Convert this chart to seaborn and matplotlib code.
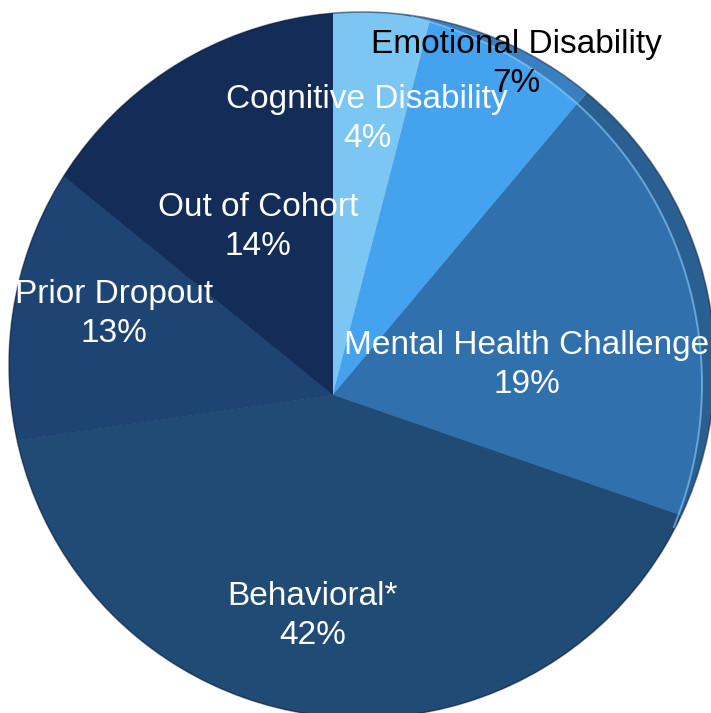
import numpy as np
import matplotlib
matplotlib.use("Agg")
import matplotlib.pyplot as plt
from matplotlib.patches import Circle
from matplotlib.path import Path
import seaborn as sns

# Share of students by category (clockwise from 12 o'clock)
categories = ["Cognitive Disability", "Emotional Disability", "Mental Health Challenge",
              "Behavioral*", "Prior Dropout", "Out of Cohort"]
shares = [4, 7, 19, 42, 13, 14]

# Slice colours (top face) and darker side colours for the rim
face_colors = ["#7cc6f3", "#45a2ee", "#3070ac", "#204b75", "#1d4472", "#142c58"]
side_colors = ["#4a8fc6", "#3a80c0", "#2a5f92", "#1b4066", "#193c65", "#11264d"]
text_colors = ["white", "black", "white", "white", "white", "white"]

sns.set_theme(style="white")
plt.rcParams["font.family"] = ["Liberation Sans", "DejaVu Sans"]

W, H = 711, 713
fig = plt.figure(figsize=(W / 100, H / 100), dpi=100)
ax = fig.add_axes([0, 0, 1, 1])


def px(x, y):
    """Pixel position (origin top-left) to data coords."""
    return (x, H - y)


# Geometry of the disc (pixel space)
apex = px(333, 395)
outer_c = np.array(px(362, 365), dtype=float)
outer_r = 353.0
inner_c = np.array(px(325, 384), dtype=float)
inner_r = 377.0

outer_path = Path.circle(outer_c, outer_r)

# Lens = intersection of the outer disc and the offset top-face disc
t = np.linspace(0, 2 * np.pi, 2000, endpoint=False)
po = outer_c + outer_r * np.c_[np.cos(t), np.sin(t)]
pi_ = inner_c + inner_r * np.c_[np.cos(t), np.sin(t)]
keep_o = po[np.hypot(*(po - inner_c).T) <= inner_r]
keep_i = pi_[np.hypot(*(pi_ - outer_c).T) <= outer_r]
lens_pts = np.vstack([keep_o, keep_i])
ang = np.arctan2(lens_pts[:, 1] - outer_c[1], lens_pts[:, 0] - outer_c[0])
lens_pts = lens_pts[np.argsort(ang)]
lens_path = Path(np.vstack([lens_pts, lens_pts[:1]]), closed=True)

# Side (rim) layer
side_wedges, _ = ax.pie(shares, colors=side_colors, startangle=90, counterclock=False,
                        center=apex, radius=420, frame=True,
                        wedgeprops=dict(linewidth=0))
# Top face layer
top_wedges, _ = ax.pie(shares, colors=face_colors, startangle=90, counterclock=False,
                       center=apex, radius=420, frame=True,
                       wedgeprops=dict(linewidth=0))

for w in side_wedges:
    w.set_clip_on(True)
    w.set_clip_path(outer_path, ax.transData)
for w in top_wedges:
    w.set_clip_on(True)
    w.set_clip_path(lens_path, ax.transData)

ax.set_xlim(0, W)
ax.set_ylim(0, H)
ax.set_aspect("equal")
ax.axis("off")

# Highlight along the edge of the top face where the rim shows
rim_edge = keep_i[np.argsort(np.arctan2(keep_i[:, 1] - inner_c[1], keep_i[:, 0] - inner_c[0]))]
sel = (rim_edge[:, 0] > 380) & (np.hypot(*(rim_edge - outer_c).T) < outer_r - 1.5)
hl, = ax.plot(rim_edge[sel, 0], rim_edge[sel, 1], color="#8fd0ff", lw=1.4, alpha=0.6)
hl.set_clip_path(outer_path, ax.transData)

# Soft outline of the disc
ax.add_patch(Circle(outer_c, outer_r, facecolor="none", edgecolor="#0c1d38", lw=1.2, alpha=0.5))

# Slice labels
label_pos = [px(367, 119), px(516, 64), px(527, 365), px(313, 616), px(114, 314), px(258, 227)]
for name, val, pos, col in zip(categories, shares, label_pos, text_colors):
    ax.text(pos[0], pos[1], f"{name}\n{val}%", ha="center", va="center",
            color=col, fontsize=24, linespacing=1.3)

fig.savefig("out.png", dpi=100)
